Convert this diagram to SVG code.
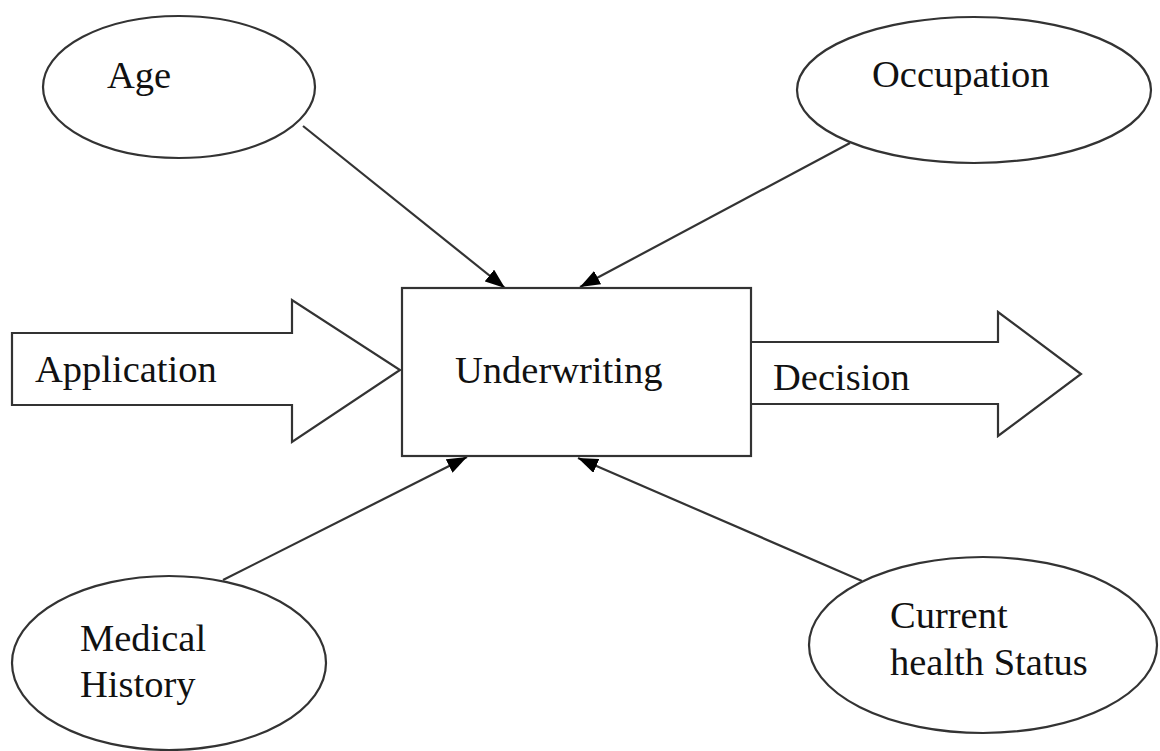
<svg xmlns="http://www.w3.org/2000/svg" width="1160" height="751" viewBox="0 0 1160 751">
<defs>
<marker id="ah" viewBox="0 0 10 10" refX="10" refY="5" markerWidth="20" markerHeight="15" markerUnits="userSpaceOnUse" orient="auto" preserveAspectRatio="none">
<path d="M0,0 L10,5 L0,10 Z" fill="#000"/>
</marker>
<style>
.shape{fill:#fff;stroke:#333;stroke-width:2.2}
.lbl{font-family:"Liberation Serif","Times New Roman",serif;font-size:38.5px;fill:#111}
.conn{stroke:#333;stroke-width:2.2;fill:none;marker-end:url(#ah)}
</style>
</defs>
<rect width="1160" height="751" fill="#fff"/>
<g id="connectors">
<line class="conn" x1="303" y1="126" x2="505" y2="288"/>
<line class="conn" x1="850" y1="143" x2="580" y2="287"/>
<line class="conn" x1="223" y1="580" x2="467" y2="457"/>
<line class="conn" x1="862" y1="581" x2="578" y2="458"/>
</g>
<g id="age">
<ellipse class="shape" cx="179" cy="87" rx="136" ry="71"/>
<text class="lbl" x="107" y="88">Age</text>
</g>
<g id="occupation">
<ellipse class="shape" cx="974" cy="90" rx="177" ry="73"/>
<text class="lbl" x="872" y="87">Occupation</text>
</g>
<g id="application">
<path class="shape" d="M12,333 L292,333 L292,300 L400,370 L292,442 L292,405 L12,405 Z"/>
<text class="lbl" x="35" y="382">Application</text>
</g>
<g id="underwriting">
<rect class="shape" x="402" y="288" width="349" height="168"/>
<text class="lbl" x="455" y="383">Underwriting</text>
</g>
<g id="decision">
<path class="shape" d="M752,342 L998,342 L998,312 L1081,374 L998,436 L998,404 L752,404"/>
<text class="lbl" x="773" y="390">Decision</text>
</g>
<g id="medical">
<ellipse class="shape" cx="169" cy="663" rx="157" ry="87"/>
<text class="lbl" x="80" y="651">Medical</text>
<text class="lbl" x="80" y="697">History</text>
</g>
<g id="current">
<ellipse class="shape" cx="983" cy="645" rx="174" ry="88"/>
<text class="lbl" x="890" y="628">Current</text>
<text class="lbl" x="890" y="675">health Status</text>
</g>
</svg>
